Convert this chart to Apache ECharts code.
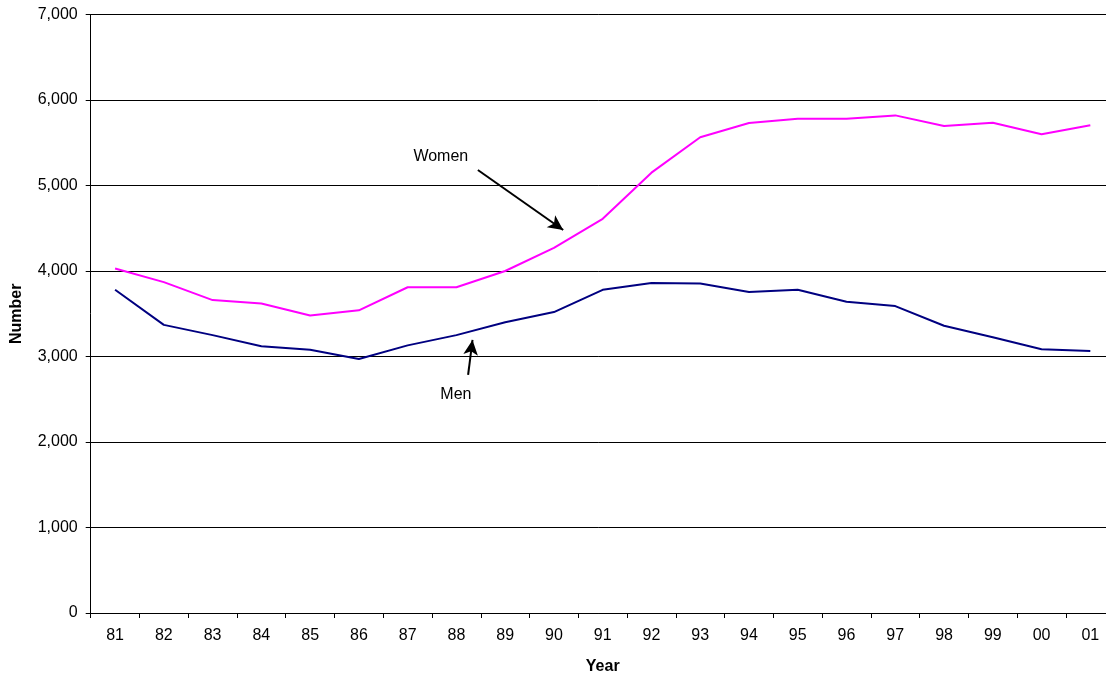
<!DOCTYPE html>
<html>
<head>
<meta charset="utf-8">
<script src="https://cdn.jsdelivr.net/npm/echarts@6/dist/echarts.min.js"></script>
<style>
html,body{margin:0;padding:0;background:#fff;}
#c{width:1106px;height:675px;}
</style>
</head>
<body>
<div id="c"></div>
<script>
const years = ['81','82','83','84','85','86','87','88','89','90','91','92','93','94','95','96','97','98','99','00','01'];
const women = [4030,3870,3660,3620,3480,3540,3810,3810,4000,4270,4610,5150,5565,5730,5780,5780,5820,5695,5735,5600,5705];
const men   = [3780,3370,3250,3120,3080,2970,3130,3250,3400,3520,3780,3860,3855,3755,3780,3640,3590,3360,3225,3085,3065];
const yTicks = [0,1000,2000,3000,4000,5000,6000,7000];
// annotation anchors (category position, value)
const womenLabelAt = [6.68, 5333];
const womenArrow = [[7.44, 5181], [9.19, 4480]];
const menLabelAt = [6.99, 2550];
const menArrow = [[7.24, 2784], [7.33, 3193]];

const font = 'Liberation Sans, Arial, sans-serif';
const chart = echarts.init(document.getElementById('c'), null, {renderer:'canvas'});
chart.setOption({
  animation:false,
  backgroundColor:'#fff',
  grid:{left:90.7, right:-8.7, top:14.5, bottom:62, containLabel:false, outerBoundsMode:'none'},
  xAxis:[{
    type:'category', data:years, boundaryGap:true,
    name:'Year', nameLocation:'middle', nameGap:46,
    nameTextStyle:{fontFamily:font, fontSize:16, fontWeight:'bold', color:'#000'},
    axisLine:{onZero:false, lineStyle:{color:'#000', width:1}},
    axisTick:{show:true, alignWithLabel:false, length:5, lineStyle:{color:'#000'}},
    axisLabel:{fontFamily:font, fontSize:16, color:'#000', margin:15, interval:0},
    splitLine:{show:false}
  },{
    type:'value', min:-0.5, max:20.5, show:false, position:'top'
  }],
  yAxis:{
    type:'value', min:0, max:7000, interval:1000, position:'left',
    name:'Number', nameLocation:'middle', nameGap:66, nameRotate:90,
    nameTextStyle:{fontFamily:font, fontSize:16, fontWeight:'bold', color:'#000'},
    axisLine:{show:true, onZero:false, lineStyle:{color:'#000', width:1}},
    axisTick:{show:true, length:5, lineStyle:{color:'#000'}},
    axisLabel:{fontFamily:font, fontSize:16, color:'#000', margin:13,
      formatter:v=>yTicks.includes(v)? v.toLocaleString('en-US') : ''},
    splitLine:{show:true, lineStyle:{color:'#000', width:1}}
  },
  series:[
    {
      name:'Women', type:'line', data:women, symbol:'none', xAxisIndex:0,
      lineStyle:{color:'#FF00FF', width:2}, itemStyle:{color:'#FF00FF'}
    },
    {
      name:'Men', type:'line', data:men, symbol:'none', xAxisIndex:0,
      lineStyle:{color:'#000080', width:2}, itemStyle:{color:'#000080'}
    },
    {
      name:'notes', type:'line', data:[], xAxisIndex:1, symbol:'none',
      markLine:{
        silent:true, symbol:['none','arrow'], symbolSize:[11,15],
        lineStyle:{color:'#000', width:2, type:'solid'},
        label:{show:false},
        data:[
          [{coord:womenArrow[0]},{coord:womenArrow[1]}],
          [{coord:menArrow[0]},{coord:menArrow[1]}]
        ]
      },
      markPoint:{
        silent:true, symbol:'circle', symbolSize:0,
        label:{show:true, fontFamily:font, fontSize:16, color:'#000', position:'inside', formatter:p=>p.name},
        data:[{name:'Women', coord:womenLabelAt},{name:'Men', coord:menLabelAt}]
      }
    }
  ]
});
</script>
</body>
</html>
